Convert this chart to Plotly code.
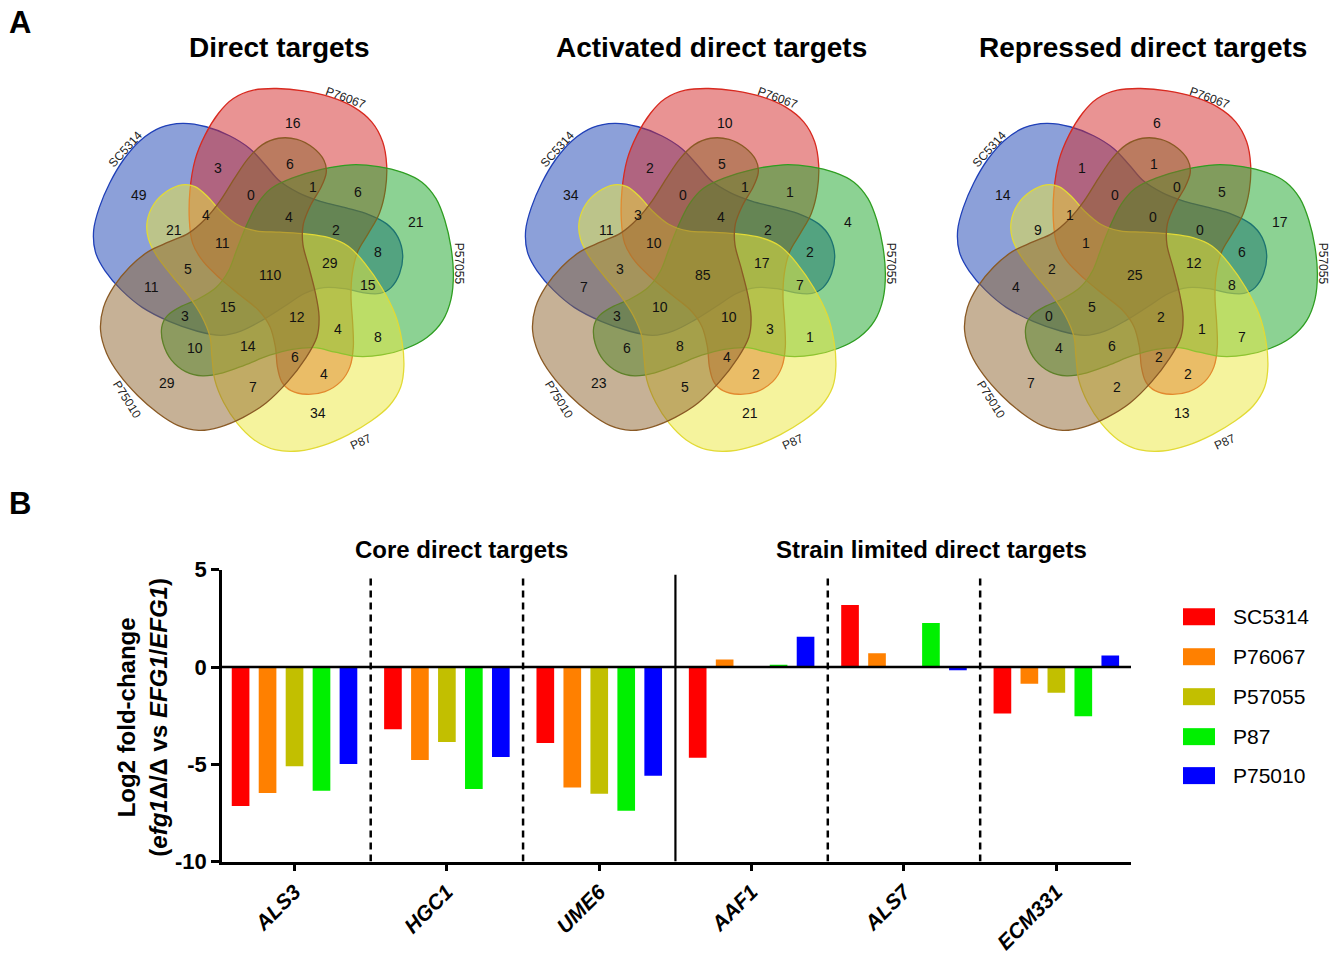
import plotly.graph_objects as go
import numpy as np

W, H = 1338, 954

# ---------------- Panel A data ----------------
venn_titles = ["Direct targets", "Activated direct targets", "Repressed direct targets"]
set_names = ["P76067", "P57055", "P87", "P75010", "SC5314"]
direct_counts = [16, 3, 6, 49, 0, 1, 6, 21, 4, 4, 21, 11, 2, 8, 110, 29, 5, 15, 11, 3,
                 15, 12, 4, 8, 10, 14, 6, 4, 29, 7, 34]
activated_counts = [10, 2, 5, 34, 0, 1, 1, 4, 3, 4, 11, 10, 2, 2, 85, 17, 3, 7, 7, 3,
                    10, 10, 3, 1, 6, 8, 4, 2, 23, 5, 21]
repressed_counts = [6, 1, 1, 14, 0, 0, 5, 17, 1, 0, 9, 1, 0, 6, 25, 12, 2, 8, 4, 0,
                    5, 2, 1, 7, 4, 6, 2, 2, 7, 2, 13]

# ---------------- Panel B data ----------------
genes = ["ALS3", "HGC1", "UME6", "AAF1", "ALS7", "ECM331"]
strains = ["SC5314", "P76067", "P57055", "P87", "P75010"]
sc5314 = [-7.15, -3.20, -3.90, -4.66, 3.19, -2.39]
p76067 = [-6.47, -4.78, -6.19, 0.39, 0.71, -0.86]
p57055 = [-5.10, -3.85, -6.51, 0.0, 0.0, -1.32]
p87 = [-6.36, -6.27, -7.39, 0.12, 2.27, -2.53]
p75010 = [-4.98, -4.63, -5.59, 1.56, -0.17, 0.59]
bar_colors = ["#FF0000", "#FF8000", "#C2BF00", "#00F000", "#0000FF"]

# ---------------- geometry / style ----------------
FONT = "Liberation Sans, Arial, sans-serif"
petal_zoom = [(300, 330), (315, 240), (345, 165), (385, 100), (430, 55), (490, 30), (560, 25),
              (640, 32), (720, 50), (790, 80), (845, 125), (878, 185), (890, 255), (886, 330),
              (868, 400), (835, 460), (803, 515), (787, 580), (783, 650), (788, 730), (790, 800),
              (780, 860), (752, 905), (705, 935), (650, 943), (603, 932), (575, 905), (562, 860),
              (556, 800), (540, 740), (505, 690), (450, 645), (390, 595), (340, 545), (308, 490),
              (298, 420)]
petal = np.array([((x - 540) / 3.0, (y - 570) / 3.0) for x, y in petal_zoom])

set_fill = ["rgba(212,40,40,0.50)", "rgba(25,165,40,0.50)", "rgba(236,232,60,0.50)",
            "rgba(142,100,45,0.50)", "rgba(25,65,180,0.50)"]
set_line = ["#D82A20", "#2F9E22", "#E2DA35", "#8A5A25", "#2040B8"]
set_rot = [0, 72, 144, 216, 288]

region_pos_zoom = [(610, 130), (385, 265), (600, 252), (148, 345), (483, 345), (668, 320), (805, 335),
                   (978, 425), (348, 405), (598, 410), (252, 450), (396, 490), (738, 450), (863, 515),
                   (542, 585), (720, 550), (294, 568), (833, 615), (185, 622), (285, 708), (415, 680),
                   (620, 712), (743, 748), (865, 772), (315, 805), (475, 797), (615, 830), (703, 882),
                   (231, 910), (488, 920), (683, 1000)]
region_pos = [((x - 540) / 3.0, (y - 570) / 3.0) for x, y in region_pos_zoom]

name_pos_zoom = [(768, 52, 20), (1108, 552, 90), (812, 1086, -25), (112, 960, 58), (107, 208, -48)]

venn_centers = [(270, 270), (702, 270), (1134, 270)]
venn_title_x = [279, 711, 1143]
all_counts = [direct_counts, activated_counts, repressed_counts]

# vertical placement calibration of the photographed page
Y_SCALE, Y_OFF = 0.9725, 11.75


def rot(pts, deg):
    a = np.deg2rad(deg)
    c, s = np.cos(a), np.sin(a)
    return np.column_stack([pts[:, 0] * c - pts[:, 1] * s, pts[:, 0] * s + pts[:, 1] * c])


def smooth_closed_path(pts):
    n = len(pts)
    d = "M{:.2f},{:.2f}".format(pts[0][0], pts[0][1])
    for i in range(n):
        p0, p1, p2, p3 = pts[i - 1], pts[i], pts[(i + 1) % n], pts[(i + 2) % n]
        c1 = p1 + (p2 - p0) / 6.0
        c2 = p2 - (p3 - p1) / 6.0
        d += " C{:.2f},{:.2f} {:.2f},{:.2f} {:.2f},{:.2f}".format(c1[0], c1[1], c2[0], c2[1], p2[0], p2[1])
    return d + " Z"


def px(xp):
    return xp / W


def py(yp):
    page = (yp - Y_OFF) / Y_SCALE
    return 1 - page / H


def txt(text, x, y, size, xanchor="center", yanchor="middle", angle=0, color="black", **kw):
    d = dict(text=text, x=x, y=y, xanchor=xanchor, yanchor=yanchor, textangle=angle,
             showarrow=False, font=dict(family=FONT, size=size, color=color))
    d.update(kw)
    return d


fig = go.Figure()
shapes = []
annotations = []

# ---------------- Panel B: bars ----------------
series = [sc5314, p76067, p57055, p87, p75010]
xi = list(range(len(genes)))
for name, vals, col in zip(strains, series, bar_colors):
    fig.add_trace(go.Bar(x=xi, y=vals, name=name, marker=dict(color=col, line=dict(width=0)),
                         xaxis="x", yaxis="y", showlegend=False))

bx0, bx1 = 222, 1131
by_top, by_bot = 570, 862
fig.update_layout(
    xaxis=dict(domain=[px(bx0), px(bx1)], range=[-0.476, 5.49], anchor="y",
               tickvals=xi, ticktext=["<b><i>%s</i></b>" % g for g in genes], tickangle=-45,
               ticks="outside", ticklen=7, tickwidth=2.5, tickcolor="black",
               showline=True, linecolor="black", linewidth=2.5, showgrid=False, zeroline=False,
               tickfont=dict(family=FONT, size=21, color="black")),
    yaxis=dict(domain=[py(by_bot), py(by_top)], range=[-10, 5], anchor="x",
               tickvals=[-10, -5, 0, 5], ticktext=["<b>-10</b>", "<b>-5</b>", "<b>0</b>", "<b>5</b>"],
               ticks="outside", ticklen=8, tickwidth=2.5, tickcolor="black",
               showline=True, linecolor="black", linewidth=2.5, showgrid=False, zeroline=False,
               tickfont=dict(family=FONT, size=22, color="black")),
    barmode="group", bargap=0.115, bargroupgap=0.345,
)

shapes.append(dict(type="line", xref="x", yref="y", x0=-0.476, x1=5.49, y0=0, y1=0,
                   line=dict(color="black", width=2.5), layer="above"))
for xv in [0.5, 1.5, 3.5, 4.5]:
    shapes.append(dict(type="line", xref="x", yref="y", x0=xv, x1=xv, y0=-10, y1=4.78,
                       line=dict(color="black", width=2.5, dash="7px,5px")))
shapes.append(dict(type="line", xref="x", yref="y", x0=2.5, x1=2.5, y0=-10, y1=4.75,
                   line=dict(color="black", width=2.2)))

annotations.append(txt("<b>Core direct targets</b>", px(461), py(550), 24, xref="paper", yref="paper"))
annotations.append(txt("<b>Strain limited direct targets</b>", px(931), py(550), 24, xref="paper", yref="paper"))
annotations.append(txt("<b>Log2 fold-change</b><br><b>(<i>efg1</i>\u0394/\u0394 vs <i>EFG1</i>/<i>EFG1</i>)</b>",
                       px(142), py(718), 24, angle=-90, xref="paper", yref="paper"))

leg_y = [617, 657, 697, 737, 776]
for name, col, ly in zip(strains, bar_colors, leg_y):
    shapes.append(dict(type="rect", xref="paper", yref="paper", x0=px(1183), x1=px(1215),
                       y0=py(ly + 8.5), y1=py(ly - 8.5), fillcolor=col, line=dict(width=0)))
    annotations.append(txt(name, px(1231), py(ly), 21, xanchor="left", xref="paper", yref="paper"))

# ---------------- Panel A: Venn diagrams ----------------
half = 200
for k, ((cx, cy), title, counts) in enumerate(zip(venn_centers, venn_titles, all_counts)):
    xr = "x%d" % (k + 2)
    yr = "y%d" % (k + 2)
    fig.update_layout(**{
        "xaxis%d" % (k + 2): dict(domain=[px(cx - half), px(cx + half)], range=[-half, half],
                                  visible=False, anchor=yr, fixedrange=True),
        "yaxis%d" % (k + 2): dict(domain=[py(cy + half), py(cy - half)], range=[half, -half],
                                  visible=False, anchor=xr, fixedrange=True),
    })
    fig.add_trace(go.Scatter(x=[0], y=[0], mode="markers", marker=dict(opacity=0), xaxis=xr, yaxis=yr,
                             showlegend=False, hoverinfo="skip"))
    for s in [4, 0, 1, 2, 3]:
        pts = rot(petal, set_rot[s])
        shapes.append(dict(type="path", xref=xr, yref=yr, path=smooth_closed_path(pts),
                           fillcolor=set_fill[s], line=dict(color=set_line[s], width=1.3), layer="below"))
    for (rx, ry), c in zip(region_pos, counts):
        annotations.append(txt(str(c), rx, ry, 14, color="#111111", xref=xr, yref=yr))
    for nm, (zx, zy, ang) in zip(set_names, name_pos_zoom):
        annotations.append(txt(nm, (zx - 540) / 3.0, (zy - 570) / 3.0, 12, angle=ang, color="#222222",
                               xref=xr, yref=yr))
    annotations.append(txt("<b>%s</b>" % title, px(venn_title_x[k]), py(47), 28, xref="paper", yref="paper"))

annotations.append(txt("<b>A</b>", px(20), py(22), 31, xref="paper", yref="paper"))
annotations.append(txt("<b>B</b>", px(20), py(504), 31, xref="paper", yref="paper"))

fig.update_layout(width=W, height=H, autosize=False, margin=dict(l=0, r=0, t=0, b=0, pad=0),
                  paper_bgcolor="white", plot_bgcolor="rgba(0,0,0,0)", showlegend=False,
                  shapes=shapes, annotations=annotations,
                  font=dict(family=FONT, color="black"))

post = ("document.documentElement.style.overflow='hidden';"
        "document.body.style.margin='0';document.body.style.padding='0';document.body.style.overflow='hidden';")
fig.write_html("out.html", config={"displayModeBar": False}, post_script=post)
